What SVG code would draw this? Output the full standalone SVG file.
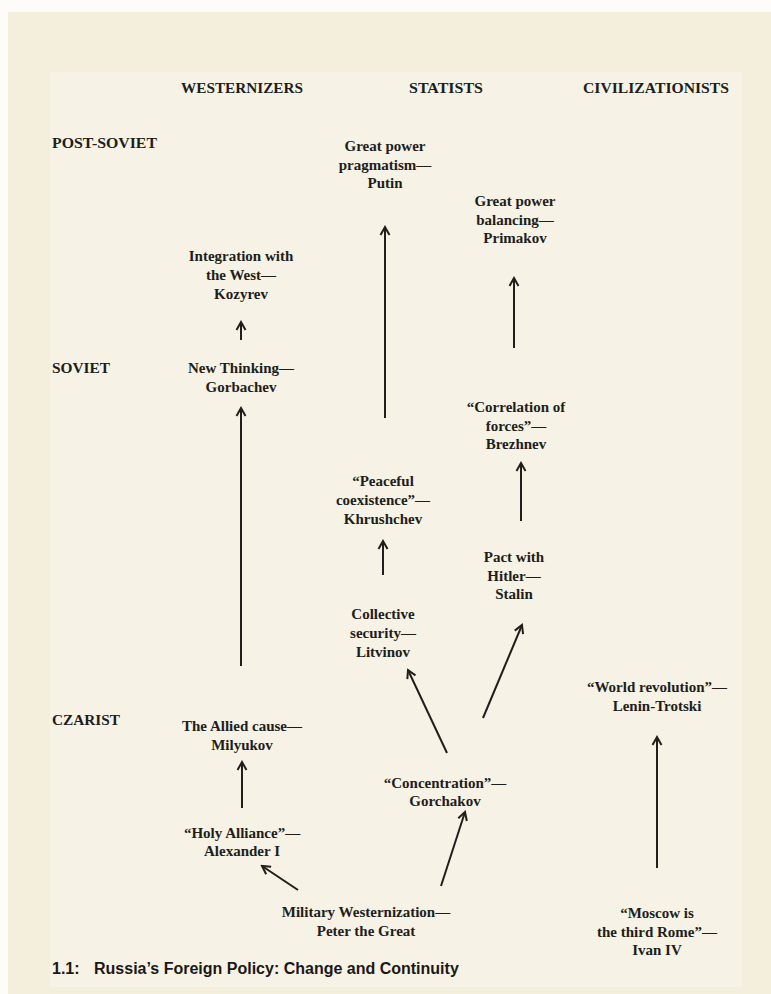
<svg xmlns="http://www.w3.org/2000/svg" width="771" height="994" viewBox="0 0 771 994">
<defs>
<style>
.t{font-family:"Liberation Serif","Times New Roman",serif;font-weight:bold;font-size:15px;fill:#211d1a;text-anchor:middle}
.h{font-family:"Liberation Serif","Times New Roman",serif;font-weight:bold;font-size:15px;fill:#211d1a}
.cap{font-family:"Liberation Sans",Arial,sans-serif;font-weight:bold;font-size:16px;fill:#1c1815}
.c line{stroke:#221e1b;stroke-width:2;marker-end:url(#ah)}
</style>
<marker id="ah" viewBox="-10 -6 12 12" refX="0" refY="0" markerWidth="12" markerHeight="12" markerUnits="userSpaceOnUse" orient="auto">
<path d="M-8,-4.5 L0,0 L-8,4.5" fill="none" stroke="#221e1b" stroke-width="2"/>
</marker>
</defs>
<rect width="771" height="994" fill="#fdfcf8"/>
<rect x="8" y="12" width="763" height="982" fill="#f4eedd"/>
<rect x="50" y="72" width="692" height="915" fill="#f6f2e6"/>

<g id="headers">
<text class="h" x="181" y="93" textLength="122" lengthAdjust="spacingAndGlyphs">WESTERNIZERS</text>
<text class="h" x="409" y="93" textLength="74" lengthAdjust="spacingAndGlyphs">STATISTS</text>
<text class="h" x="583" y="93" textLength="146" lengthAdjust="spacingAndGlyphs">CIVILIZATIONISTS</text>
<text class="h" x="52" y="148" textLength="105" lengthAdjust="spacingAndGlyphs">POST-SOVIET</text>
<text class="h" x="52" y="373" textLength="58" lengthAdjust="spacingAndGlyphs">SOVIET</text>
<text class="h" x="52" y="725" textLength="68" lengthAdjust="spacingAndGlyphs">CZARIST</text>
</g>

<g id="putin"><text class="t" y="151"><tspan x="385">Great power</tspan><tspan x="385" dy="18.5">pragmatism—</tspan><tspan x="385" dy="18.5">Putin</tspan></text></g>
<g id="primakov"><text class="t" y="206"><tspan x="515">Great power</tspan><tspan x="515" dy="18.5">balancing—</tspan><tspan x="515" dy="18.5">Primakov</tspan></text></g>
<g id="kozyrev"><text class="t" y="261"><tspan x="241">Integration with</tspan><tspan x="241" dy="19">the West—</tspan><tspan x="241" dy="19">Kozyrev</tspan></text></g>
<g id="gorbachev"><text class="t" y="373"><tspan x="241">New Thinking—</tspan><tspan x="241" dy="18.5">Gorbachev</tspan></text></g>
<g id="brezhnev"><text class="t" y="412"><tspan x="516">“Correlation of</tspan><tspan x="516" dy="18.5">forces”—</tspan><tspan x="516" dy="18.5">Brezhnev</tspan></text></g>
<g id="khrushchev"><text class="t" y="486"><tspan x="383">“Peaceful</tspan><tspan x="383" dy="19">coexistence”—</tspan><tspan x="383" dy="19">Khrushchev</tspan></text></g>
<g id="stalin"><text class="t" y="562"><tspan x="514">Pact with</tspan><tspan x="514" dy="18.5">Hitler—</tspan><tspan x="514" dy="18.5">Stalin</tspan></text></g>
<g id="litvinov"><text class="t" y="619"><tspan x="383">Collective</tspan><tspan x="383" dy="19">security—</tspan><tspan x="383" dy="19">Litvinov</tspan></text></g>
<g id="lenin"><text class="t" y="692"><tspan x="657">“World revolution”—</tspan><tspan x="657" dy="19">Lenin-Trotski</tspan></text></g>
<g id="milyukov"><text class="t" y="731"><tspan x="242">The Allied cause—</tspan><tspan x="242" dy="19">Milyukov</tspan></text></g>
<g id="gorchakov"><text class="t" y="788"><tspan x="445">“Concentration”—</tspan><tspan x="445" dy="17.5">Gorchakov</tspan></text></g>
<g id="alexander"><text class="t" y="838"><tspan x="242">“Holy Alliance”—</tspan><tspan x="242" dy="18">Alexander I</tspan></text></g>
<g id="peter"><text class="t" y="917"><tspan x="366">Military Westernization—</tspan><tspan x="366" dy="19">Peter the Great</tspan></text></g>
<g id="ivan"><text class="t" y="918"><tspan x="657">“Moscow is</tspan><tspan x="657" dy="18.5">the third Rome”—</tspan><tspan x="657" dy="18.5">Ivan IV</tspan></text></g>

<g id="connectors" class="c">
<line x1="241" y1="340" x2="241" y2="322"/>
<line x1="241" y1="666" x2="241" y2="408"/>
<line x1="385" y1="418" x2="385" y2="227"/>
<line x1="514" y1="348" x2="514" y2="278"/>
<line x1="521" y1="521" x2="521" y2="463"/>
<line x1="383" y1="575" x2="383" y2="541"/>
<line x1="447" y1="753" x2="408" y2="670"/>
<line x1="483" y1="718" x2="522" y2="625"/>
<line x1="242" y1="808" x2="242" y2="762"/>
<line x1="441" y1="886" x2="465" y2="812"/>
<line x1="298" y1="890" x2="262" y2="866"/>
<line x1="657" y1="868" x2="657" y2="737"/>
</g>

<g id="caption"><text class="cap" x="52" y="974"><tspan>1.1:</tspan><tspan x="94">Russia’s Foreign Policy: Change and Continuity</tspan></text></g>
</svg>
